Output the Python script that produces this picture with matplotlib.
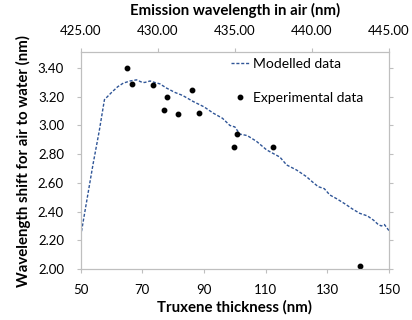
import matplotlib

matplotlib.use("Agg")
from matplotlib import pyplot as plt

# experimental points (thickness nm, shift nm)
exp_thickness = [64.9, 66.8, 73.5, 78.1, 77.1, 81.6, 86.2, 88.4, 100.7, 99.6, 112.3, 140.5]
exp_shift = [3.40, 3.29, 3.28, 3.20, 3.11, 3.08, 3.25, 3.09, 2.94, 2.85, 2.85, 2.02]

# modelled curve
model_thickness = [50, 52, 54, 56, 57.7, 60, 62, 63.8, 66, 68.1, 70, 70.8, 72.5, 74, 75.7,
                   77.9, 80.6, 83, 86.5, 90, 93, 96, 98.4, 100, 101.6, 104, 107, 110.3,
                   112, 114.6, 116.8, 120, 123.2, 125, 127, 129, 130.8, 133, 136, 138,
                   140.5, 143, 145, 146.5, 147.5, 148.5, 150]
model_shift = [2.23, 2.48, 2.73, 2.96, 3.18, 3.23, 3.27, 3.295, 3.31, 3.318, 3.30, 3.30,
               3.31, 3.30, 3.29, 3.26, 3.23, 3.21, 3.167, 3.13, 3.086, 3.05, 3.00, 2.99,
               2.94, 2.93, 2.89, 2.83, 2.81, 2.78, 2.725, 2.69, 2.644, 2.61, 2.574, 2.56,
               2.516, 2.49, 2.45, 2.42, 2.388, 2.37, 2.34, 2.31, 2.30, 2.31, 2.267]

yticks = [2.00, 2.20, 2.40, 2.60, 2.80, 3.00, 3.20, 3.40]
xticks = [50, 70, 90, 110, 130, 150]
wl_ticks = [425.0, 430.0, 435.0, 440.0, 445.0]

plt.rcParams["font.family"] = ["Lato", "DejaVu Sans"]
grey = "#BFBFBF"

fig = plt.figure(figsize=(4.12, 3.2), dpi=100)
ax = fig.add_axes([80.7 / 412, 1 - 269 / 320, (389 - 80.7) / 412, (269 - 52.3) / 320])

ax.plot(model_thickness, model_shift, linestyle=(0, (2.2, 1.3)), color="#2F5597",
        linewidth=1.0, label="Modelled data")
ax.plot(exp_thickness, exp_shift, linestyle="none", marker="o", markersize=3.2,
        color="black", label="Experimental data")

ax.set_xlim(50, 150)
ax.set_ylim(2.0, 3.51)
ax.set_xticks(xticks)
ax.set_yticks(yticks)
ax.set_yticklabels([f"{v:.2f}" for v in yticks])
ax.tick_params(axis="both", labelsize=9.5, color=grey, length=3, direction="out")
ax.tick_params(axis="x", pad=8)
ax.tick_params(axis="y", pad=9, right=True, labelright=False)
for side in ax.spines.values():
    side.set_color(grey)
    side.set_linewidth(0.8)

ax.set_xlabel("Truxene thickness (nm)", fontsize=10.8, fontweight="bold", labelpad=3)
ax.set_ylabel("Wavelength shift for air to water (nm)", fontsize=10.8, fontweight="bold",
              labelpad=5)

top = ax.twiny()
top.set_xlim(425, 445)
top.set_xticks(wl_ticks)
top.set_xticklabels([f"{v:.2f}" for v in wl_ticks])
top.tick_params(axis="x", labelsize=9.5, color=grey, length=3, pad=8)
for side in top.spines.values():
    side.set_color(grey)
    side.set_linewidth(0.8)
top.set_xlabel("Emission wavelength in air (nm)", fontsize=10.8, fontweight="bold",
               labelpad=7)

ax.legend(loc="upper left", bbox_to_anchor=(231 / 412, 1 - 58 / 320),
          bbox_transform=fig.transFigure, frameon=False, fontsize=10,
          borderpad=0, borderaxespad=0, handlelength=1.35, handletextpad=0.2,
          labelspacing=1.6)

fig.savefig("out.png", dpi=100)
